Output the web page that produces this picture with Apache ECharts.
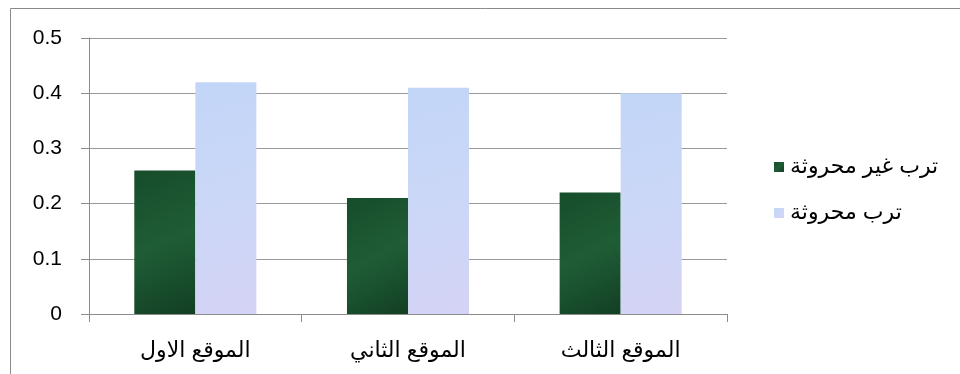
<!DOCTYPE html>
<html>
<head>
<meta charset="utf-8">
<script src="https://cdn.jsdelivr.net/npm/echarts@6/dist/echarts.min.js"></script>
<style>
  html, body { margin: 0; padding: 0; background: #fff; }
  #chart { width: 960px; height: 374px; }
</style>
</head>
<body>
<div id="chart"></div>
<script>
// Sites along the x axis
const categories = ['الموقع الاول', 'الموقع الثاني', 'الموقع الثالث'];
// Series values per site
const untilledSoil = [0.26, 0.21, 0.22];
const tilledSoil = [0.42, 0.41, 0.40];
const seriesNames = ['ترب غير محروثة', 'ترب محروثة'];
// Value axis ticks
const yMin = 0, yMax = 0.5, yStep = 0.1;

const FONT = '"Liberation Sans", Arial, "DejaVu Sans", sans-serif';

const chart = echarts.init(document.getElementById('chart'), null, { renderer: 'canvas' });

const greenFill = new echarts.graphic.LinearGradient(0, 0, 1, 1, [
  { offset: 0, color: '#164c2a' },
  { offset: 0.5, color: '#1f5d36' },
  { offset: 1, color: '#123f23' }
]);
const paleFill = new echarts.graphic.LinearGradient(0, 0, 1, 1, [
  { offset: 0, color: '#c2d6f8' },
  { offset: 0.5, color: '#cbd7f7' },
  { offset: 1, color: '#d4d3f5' }
]);

chart.setOption({
  animation: false,
  backgroundColor: '#fff',
  grid: { left: 89, top: 38, right: 233, bottom: 60 },
  graphic: [{
    type: 'rect',
    shape: { x: 10.5, y: 8.5, width: 1000, height: 500 },
    style: { fill: 'none', stroke: '#8a8a8a', lineWidth: 1 },
    silent: true
  }],
  legend: {
    orient: 'vertical',
    left: 769,
    top: 151,
    itemWidth: 10,
    itemHeight: 10,
    itemGap: 24,
    itemStyle: { borderWidth: 0 },
    icon: 'rect',
    textStyle: { fontFamily: FONT, fontSize: 22, color: '#000', padding: [0, 0, 0, 1] },
    data: seriesNames
  },
  xAxis: {
    type: 'category',
    data: categories,
    axisLine: { lineStyle: { color: '#8c8c8c', width: 1 } },
    axisTick: { show: true, length: 8, alignWithLabel: false, lineStyle: { color: '#8c8c8c' } },
    axisLabel: { fontFamily: FONT, fontSize: 22, color: '#000', margin: 26 },
    splitLine: { show: false }
  },
  yAxis: {
    type: 'value',
    min: yMin,
    max: yMax,
    interval: yStep,
    axisLine: { show: true, lineStyle: { color: '#8c8c8c', width: 1 } },
    axisTick: { show: true, length: 8, lineStyle: { color: '#8c8c8c' } },
    axisLabel: {
      fontFamily: FONT, fontSize: 21, color: '#000', margin: 27,
      formatter: v => String(Math.round(v * 10) / 10)
    },
    splitLine: { show: true, lineStyle: { color: '#9a9a9a', width: 1 } }
  },
  series: [
    {
      name: seriesNames[0],
      type: 'bar',
      data: untilledSoil,
      barGap: '0%',
      barCategoryGap: '42.6%',
      itemStyle: { color: greenFill }
    },
    {
      name: seriesNames[1],
      type: 'bar',
      data: tilledSoil,
      barGap: '0%',
      barCategoryGap: '42.6%',
      itemStyle: { color: paleFill }
    }
  ]
});
</script>
</body>
</html>
